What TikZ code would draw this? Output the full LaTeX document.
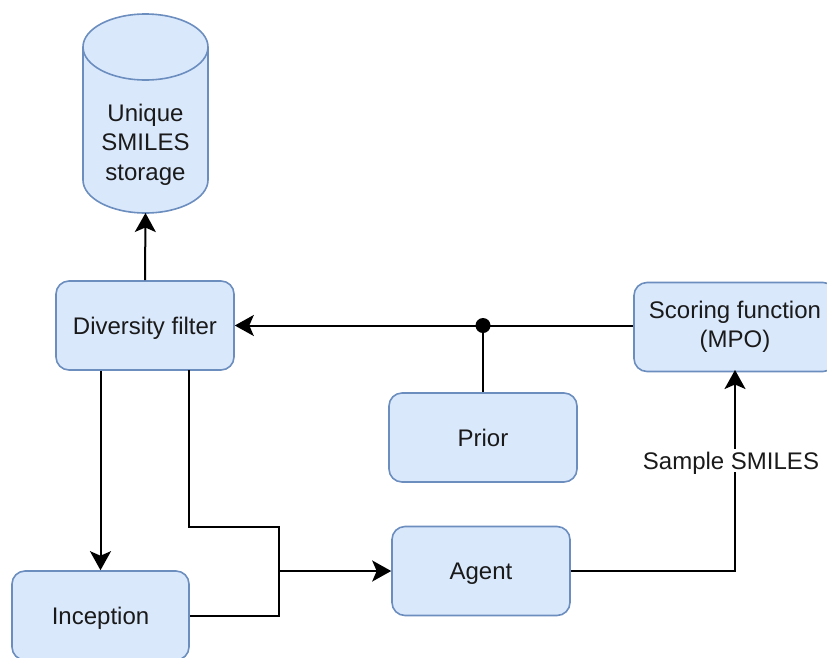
\documentclass[tikz,border=0pt]{standalone}
\usepackage{fontspec}
\setmainfont{Liberation Sans}
\usetikzlibrary{arrows.meta,calc}
\definecolor{boxfill}{HTML}{DAE8FC}
\definecolor{boxline}{HTML}{6C8EBF}
\definecolor{txt}{HTML}{1A1A1A}
\tikzset{
  >={Stealth[length=19pt, width=21pt, inset=4.5pt]},
  block/.style={draw=boxline, fill=boxfill, line width=1.6pt, rounded corners=13pt,
    minimum width=178pt, minimum height=89pt, inner sep=0pt, align=center},
  oneline/.style={text height=17.2pt, text depth=0pt},
  wire/.style={line width=2pt, black},
  conn/.style={wire, ->},
  dot/.style={circle, fill=black, minimum size=15pt, inner sep=0pt}
}
\begin{document}
\begin{tikzpicture}[x=1pt,y=-1pt,
  every node/.style={font=\fontsize{24}{29.5}\selectfont, text=txt}]
\useasboundingbox (0,0) rectangle (827,657);
\clip (0,0) rectangle (827,657);

% storage cylinder
\fill[boxfill] (83,47) -- (83,180) arc[start angle=180, end angle=360, x radius=62.5, y radius=-33]
  -- (208,47) arc[start angle=0, end angle=180, x radius=62.5, y radius=-33] -- cycle;
\draw[boxline, line width=1.6pt] (83,47) -- (83,180)
  arc[start angle=180, end angle=360, x radius=62.5, y radius=-33] -- (208,47);
\draw[boxline, line width=1.6pt] (145.5,47) ellipse[x radius=62.5, y radius=33];
\node[align=center] (store) at (145.5,144.5) {Unique\\SMILES\\storage};
\coordinate (storebot) at (145.5,213);

% blocks
\node[block, oneline] (df) at (145,325.5) {Diversity filter};
\node[block, minimum width=202pt, yshift=-1.5pt] (score) at (735,325.5) {Scoring function\\(MPO)};
\node[block, oneline, minimum width=188pt] (prior) at (483,437.5) {Prior};
\node[block, oneline] (agent) at (481,571) {Agent};
\node[block, oneline, minimum width=177pt] (inc) at (100.5,615.5) {Inception};
\node[dot] (jn) at (483,325.5) {};

% connectors
\draw[conn] (df.north) -- (storebot);
\draw[conn] (score.west |- jn) -- (df.east);
\draw[wire] (prior.north) -- (jn.center);
\draw[conn] (inc.north |- df.south) -- (inc.north);
\coordinate (dfout) at (189,370);
\coordinate (elb) at (279,527);
\draw[wire] (dfout) |- (elb) |- (inc.east);
\draw[conn] (elb |- agent.west) -- (agent.west);
\draw[conn] (agent.east) -| (score.south |- 0,370)
  node[pos=0.774, fill=white, oneline, inner sep=3pt, xshift=-4pt] {Sample SMILES};
\end{tikzpicture}
\end{document}
